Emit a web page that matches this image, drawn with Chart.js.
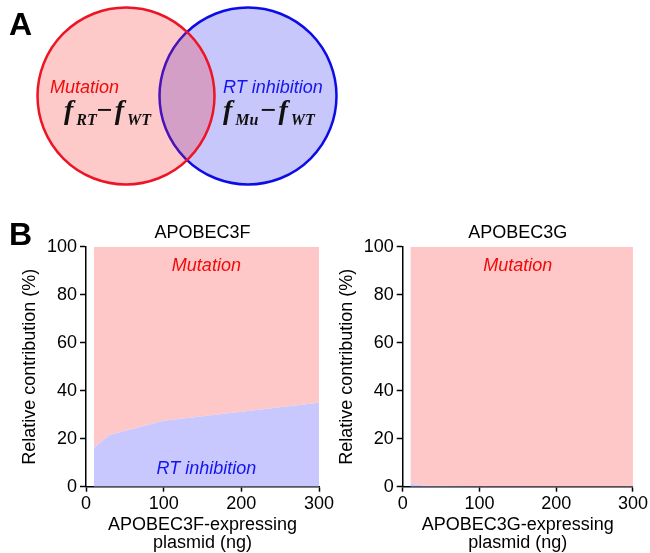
<!DOCTYPE html>
<html>
<head>
<meta charset="utf-8">
<script src="https://cdn.jsdelivr.net/npm/chart.js@4"></script>
<style>
  body { margin: 0; background: #fff; width: 650px; height: 553px; position: relative; overflow: hidden; }
  canvas { position: absolute; }
</style>
</head>
<body>
<canvas id="venn" width="345" height="200" style="left:0;top:0"></canvas>
<canvas id="chartF" width="340" height="338" style="left:0;top:215px"></canvas>
<canvas id="chartG" width="325" height="338" style="left:325px;top:215px"></canvas>
<script>
// --- data ---
const doses = [10, 30, 100, 300];            // ng plasmid
const rt3F = [16.2, 21.5, 27.5, 35.0];       // RT inhibition, %
const mut3F = [83.8, 78.5, 72.5, 65.0];      // Mutation, %
const rt3G = [1.2, 0.4, 0.2, 0.1];
const mut3G = [98.8, 99.6, 99.8, 99.9];
const xTicks = [0, 100, 200, 300];
const yTicks = [0, 20, 40, 60, 80, 100];
const vennSets = ['Mutation', 'RT inhibition'];
const vennCentres = [[126, 96], [248, 96]];
const vennRadius = [88.5, 88.5];

const SANS = '"Liberation Sans", Arial, sans-serif';
const SERIF = '"Liberation Serif", "Times New Roman", serif';
const RED = '#f00a0a';
const BLUE = '#1414f0';
const PINK_FILL = '#ffc8c8';
const BLUE_FILL = '#c8c8ff';

Chart.defaults.font.family = SANS;
Chart.defaults.color = '#000';

// --- panel A: Venn diagram drawn as two bubbles ---
function drawFormula(ctx, x, y, parts) {
    parts.forEach(p => {
        ctx.font = p.font;
        ctx.fillText(p.text, x, y + (p.dy || 0));
        x += ctx.measureText(p.text).width + (p.gap || 0);
    });
}

const vennText = {
    id: 'vennText',
    afterDatasetsDraw(chart) {
        const ctx = chart.ctx;
        ctx.save();
        ctx.textBaseline = 'alphabetic';
        ctx.textAlign = 'left';
        ctx.fillStyle = '#000';
        ctx.font = 'bold 32px ' + SANS;
        ctx.fillText('A', 9, 35);

        ctx.textBaseline = 'middle';
        ctx.font = 'italic 18px ' + SANS;
        ctx.fillStyle = RED;
        ctx.fillText(vennSets[0], 50, 88);
        ctx.fillStyle = BLUE;
        ctx.fillText(vennSets[1], 223, 88);

        ctx.textBaseline = 'alphabetic';
        ctx.fillStyle = '#111';
        const big = 'bold italic 28px ' + SERIF;
        const sub = 'bold italic 16px ' + SERIF;
        const minus = 'bold 28px ' + SERIF;
        drawFormula(ctx, 64, 119, [
            { text: 'f', font: big, gap: 3 },
            { text: 'RT', font: sub, dy: 6 },
            { text: '\u2212', font: minus, gap: 2 },
            { text: 'f', font: big, gap: 3 },
            { text: 'WT', font: sub, dy: 6 }
        ]);
        drawFormula(ctx, 223, 119, [
            { text: 'f', font: big, gap: 3 },
            { text: 'Mu', font: sub, dy: 6, gap: 2 },
            { text: '\u2212', font: minus, gap: 2 },
            { text: 'f', font: big, gap: 3 },
            { text: 'WT', font: sub, dy: 6 }
        ]);
        ctx.restore();
    }
};

new Chart(document.getElementById('venn'), {
    type: 'bubble',
    data: {
        datasets: [
            {
                label: vennSets[0],
                data: [{ x: vennCentres[0][0], y: vennCentres[0][1], r: vennRadius[0] }],
                backgroundColor: 'rgba(250,40,40,0.25)',
                borderColor: '#ec1526',
                borderWidth: 2.5,
                clip: false
            },
            {
                label: vennSets[1],
                data: [{ x: vennCentres[1][0], y: vennCentres[1][1], r: vennRadius[1] }],
                backgroundColor: 'rgba(30,30,240,0.25)',
                borderColor: '#0c0ce8',
                borderWidth: 2.5,
                clip: false
            }
        ]
    },
    options: {
        responsive: false,
        animation: false,
        events: [],
        layout: { padding: 0, autoPadding: false },
        scales: {
            x: { type: 'linear', display: false, min: 0, max: 345 },
            y: { type: 'linear', display: false, min: 0, max: 200, reverse: true }
        },
        plugins: { legend: { display: false }, tooltip: { enabled: false } }
    },
    plugins: [vennText]
});

// --- panel B: stacked area charts ---
const panelText = {
    id: 'panelText',
    afterDatasetsDraw(chart, args, opts) {
        const { ctx, chartArea, scales: { x, y } } = chart;
        ctx.save();
        ctx.textAlign = 'center';
        ctx.textBaseline = 'middle';
        ctx.fillStyle = '#000';
        ctx.font = '18px ' + SANS;
        ctx.fillText(opts.title, (chartArea.left + chartArea.right) / 2, 18);
        ctx.font = 'italic 18px ' + SANS;
        opts.labels.forEach(l => {
            ctx.fillStyle = l.color;
            ctx.fillText(l.text, x.getPixelForValue(l.x), y.getPixelForValue(l.y));
        });
        if (opts.letter) {
            ctx.textAlign = 'left';
            ctx.textBaseline = 'alphabetic';
            ctx.fillStyle = '#000';
            ctx.font = 'bold 32px ' + SANS;
            ctx.fillText(opts.letter, 9, 30);
        }
        ctx.restore();
    }
};

function areaChart(id, rt, mut, cfg) {
    return new Chart(document.getElementById(id), {
        type: 'line',
        data: {
            datasets: [
                {
                    label: 'RT inhibition',
                    data: doses.map((d, i) => ({ x: d, y: rt[i] })),
                    backgroundColor: BLUE_FILL,
                    borderWidth: 0,
                    pointRadius: 0,
                    fill: 'origin'
                },
                {
                    label: 'Mutation',
                    data: doses.map((d, i) => ({ x: d, y: mut[i] })),
                    backgroundColor: PINK_FILL,
                    borderWidth: 0,
                    pointRadius: 0,
                    fill: '-1'
                }
            ]
        },
        options: {
            responsive: false,
            animation: false,
            events: [],
            layout: { padding: { top: 31.7, right: cfg.padRight, left: 0, bottom: 0 } },
            scales: {
                x: {
                    type: 'linear', min: 0, max: 300,
                    afterBuildTicks: s => { s.ticks = xTicks.map(v => ({ value: v })); },
                    afterFit: s => { s.height = 66.3; },
                    grid: { drawOnChartArea: false, tickLength: 5, tickColor: '#000', tickWidth: 1.5 },
                    border: { color: '#000', width: 1.5 },
                    ticks: { color: '#000', font: { size: 18 }, padding: 2, maxRotation: 0 },
                    title: {
                        display: true, text: [cfg.xTitle, 'plasmid (ng)'], color: '#000',
                        font: { size: 18, lineHeight: 1 }, padding: { top: 0, bottom: 1 }
                    }
                },
                y: {
                    stacked: true, min: 0, max: 100,
                    afterBuildTicks: s => { s.ticks = yTicks.map(v => ({ value: v })); },
                    afterFit: s => { s.width = cfg.yWidth; },
                    grid: { drawOnChartArea: false, tickLength: 6, tickColor: '#000', tickWidth: 1.5 },
                    border: { color: '#000', width: 1.5 },
                    ticks: { color: '#000', font: { size: 18 }, padding: 3 },
                    title: {
                        display: true, text: 'Relative contribution (%)', color: '#000',
                        font: { size: 18, lineHeight: 1 }, padding: { top: cfg.yTitlePad, bottom: 0 }
                    }
                }
            },
            plugins: {
                legend: { display: false },
                tooltip: { enabled: false },
                panelText: { title: cfg.title, labels: cfg.labels, letter: cfg.letter }
            }
        },
        plugins: [panelText]
    });
}

areaChart('chartF', rt3F, mut3F, {
    title: 'APOBEC3F', xTitle: 'APOBEC3F-expressing', letter: 'B',
    yWidth: 86, padRight: 21, yTitlePad: 21,
    labels: [
        { text: 'Mutation', x: 155, y: 92, color: RED },
        { text: 'RT inhibition', x: 155, y: 7.5, color: BLUE }
    ]
});

areaChart('chartG', rt3G, mut3G, {
    title: 'APOBEC3G', xTitle: 'APOBEC3G-expressing', letter: null,
    yWidth: 77.7, padRight: 14.3, yTitlePad: 13,
    labels: [
        { text: 'Mutation', x: 150, y: 92, color: RED }
    ]
});
</script>
</body>
</html>
